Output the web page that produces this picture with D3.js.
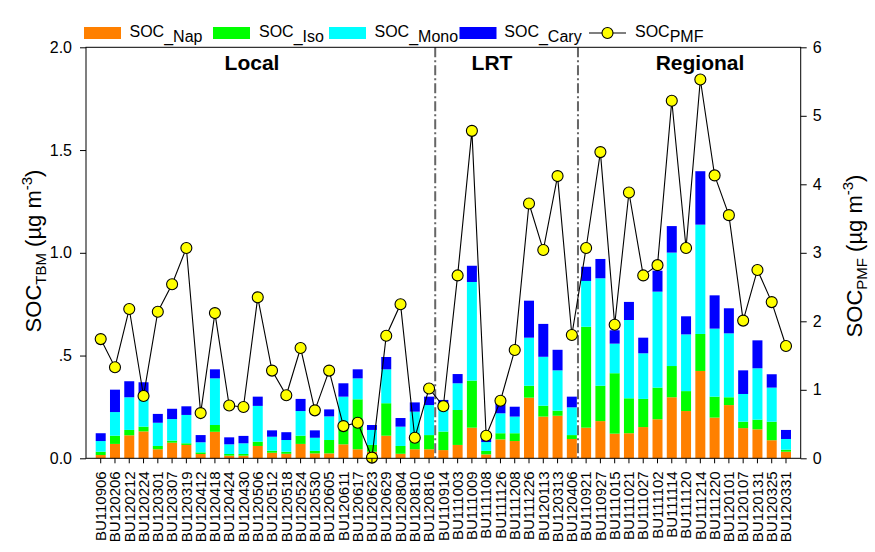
<!DOCTYPE html>
<html><head><meta charset="utf-8">
<script src="https://cdn.jsdelivr.net/npm/d3@7/dist/d3.min.js"></script>
<style>
body{margin:0;background:#fff;}
text{font-family:Arial,"Liberation Sans",sans-serif;fill:#000;}
</style>
</head><body>
<svg id="chart" width="875" height="552"></svg>
<script>
const categories = ["BU110906","BU120206","BU120212","BU120224","BU120301","BU120307","BU120319","BU120412","BU120418","BU120424","BU120430","BU120506","BU120512","BU120518","BU120524","BU120530","BU120605","BU120611","BU120617","BU120623","BU120629","BU120804","BU120810","BU120816",
"BU110914","BU111003","BU111009","BU111108","BU111126","BU111208","BU111226","BU120113","BU120313","BU120406",
"BU110921","BU110927","BU111015","BU111021","BU111027","BU111102","BU111114","BU111120","BU111214","BU111220","BU120101","BU120107","BU120131","BU120325","BU120331"];
const groupNames = ["Local","LRT","Regional"];
const groupSizes = [24,10,15];
const socNap  = [0.016,0.070,0.112,0.131,0.044,0.076,0.065,0.021,0.129,0.013,0.013,0.060,0.027,0.022,0.070,0.024,0.024,0.068,0.044,0.032,0.110,0.022,0.044,0.044,
0.040,0.065,0.149,0.019,0.092,0.084,0.295,0.203,0.207,0.094,
0.149,0.181,0.120,0.122,0.152,0.190,0.297,0.230,0.425,0.198,0.259,0.147,0.141,0.088,0.032];
const socIso  = [0.016,0.040,0.026,0.023,0.016,0.010,0.008,0.008,0.033,0.008,0.008,0.021,0.010,0.010,0.040,0.012,0.065,0.083,0.243,0.033,0.158,0.038,0.045,0.069,
0.090,0.170,0.229,0.017,0.030,0.038,0.058,0.053,0.025,0.019,
0.491,0.172,0.294,0.170,0.137,0.154,0.152,0.097,0.180,0.102,0.038,0.031,0.047,0.090,0.010];
const socMono = [0.052,0.115,0.159,0.138,0.113,0.105,0.138,0.049,0.227,0.047,0.052,0.174,0.068,0.057,0.120,0.064,0.115,0.149,0.102,0.073,0.165,0.094,0.138,0.146,
0.113,0.130,0.480,0.043,0.097,0.081,0.234,0.238,0.196,0.135,
0.223,0.523,0.144,0.381,0.222,0.467,0.552,0.276,0.532,0.331,0.311,0.135,0.250,0.166,0.052];
const socCary = [0.038,0.109,0.078,0.078,0.043,0.050,0.042,0.035,0.044,0.034,0.036,0.045,0.031,0.038,0.059,0.036,0.034,0.065,0.044,0.024,0.060,0.042,0.045,0.041,
0.041,0.045,0.079,0.018,0.049,0.048,0.180,0.160,0.100,0.052,
0.069,0.094,0.065,0.088,0.076,0.102,0.129,0.088,0.260,0.162,0.122,0.115,0.136,0.065,0.044];
const socPMF  = [1.74,1.33,2.18,0.91,2.14,2.54,3.07,0.66,2.12,0.77,0.75,2.35,1.28,0.92,1.61,0.70,1.28,0.47,0.52,0.01,1.79,2.25,0.30,1.02,
0.76,2.67,4.78,0.33,0.84,1.58,3.72,3.04,4.12,1.80,
3.07,4.47,1.95,3.88,2.67,2.82,5.22,3.07,5.53,4.13,3.55,2.01,2.75,2.28,1.64];
const leftTicks = [0,0.5,1.0,1.5,2.0];
const leftTickLabels = ["0.0",".5","1.0","1.5","2.0"];
const rightTicks = [0,1,2,3,4,5,6];
const seriesKeys = ["nap","iso","mono","cary"];
const seriesColors = ["#FF8000","#00FF00","#00FFFF","#0000FF"];
const legendMain = ["SOC","SOC","SOC","SOC","SOC"];
const legendSub = ["_Nap","_Iso","_Mono","_Cary","PMF"];

const svg = d3.select("#chart");
const L = 86, R = 800.7, T = 47.3, B = 458.3;

const x = d3.scaleBand().domain(categories).range([L, R]).paddingInner(0.3).paddingOuter(0.68);
const yL = d3.scaleLinear().domain([0,2]).range([B, T]);
const yR = d3.scaleLinear().domain([0,6]).range([B, T]);

const rows = categories.map((c,i)=>({cat:c, nap:socNap[i], iso:socIso[i], mono:socMono[i], cary:socCary[i], pmf:socPMF[i]}));
const stacked = d3.stack().keys(seriesKeys)(rows);

// bars
svg.append("g").selectAll("g").data(stacked).join("g")
  .attr("fill",(d,i)=>seriesColors[i])
  .selectAll("rect").data(d=>d).join("rect")
  .attr("x", d=>x(d.data.cat))
  .attr("width", x.bandwidth())
  .attr("y", d=>yL(d[1]))
  .attr("height", d=>yL(d[0])-yL(d[1]));

// group dividers
let acc = 0;
const dividerX = [];
groupSizes.slice(0,-1).forEach(s=>{
  acc += s;
  const a = x(categories[acc-1]) + x.bandwidth()/2, b = x(categories[acc]) + x.bandwidth()/2;
  dividerX.push((a+b)/2 - 1);
});
svg.append("g").selectAll("line").data(dividerX).join("line")
  .attr("x1",d=>d).attr("x2",d=>d).attr("y1",T).attr("y2",B)
  .attr("stroke","#666").attr("stroke-width",2).attr("stroke-dasharray","10,3,2,3");

// group titles
const titleX = [252, 492, 700];
svg.append("g").selectAll("text").data(groupNames).join("text")
  .attr("x",(d,i)=>titleX[i]).attr("y",70).attr("text-anchor","middle")
  .attr("font-weight","bold").attr("font-size",21).text(d=>d);

// PMF line
const line = d3.line().x(d=>x(d.cat)+x.bandwidth()/2).y(d=>yR(d.pmf));
svg.append("path").datum(rows).attr("d",line).attr("fill","none").attr("stroke","#000").attr("stroke-width",1.1);
svg.append("g").selectAll("circle").data(rows).join("circle")
  .attr("cx",d=>x(d.cat)+x.bandwidth()/2).attr("cy",d=>yR(d.pmf)).attr("r",5.5)
  .attr("fill","#FFFF00").attr("stroke","#000").attr("stroke-width",1.1);

// frame
svg.append("rect").attr("x",L).attr("y",T).attr("width",R-L).attr("height",B-T)
  .attr("fill","none").attr("stroke","#000").attr("stroke-width",1);

// axes
const ax = svg.append("g").attr("transform",`translate(0,${B})`)
  .call(d3.axisBottom(x).tickSize(5).tickSizeOuter(0));
ax.select(".domain").remove();
ax.selectAll("text").attr("transform","rotate(-90)").attr("x",-13).attr("y",0)
  .attr("dy","0.35em").attr("text-anchor","end").attr("font-size",15).attr("font-family","Arial, 'Liberation Sans', sans-serif");

const ayl = svg.append("g").attr("transform",`translate(${L},0)`)
  .call(d3.axisLeft(yL).tickValues(leftTicks).tickFormat((d,i)=>leftTickLabels[i]).tickSize(6).tickPadding(8).tickSizeOuter(0));
ayl.select(".domain").remove();
ayl.selectAll("text").attr("font-size",16).attr("font-family","Arial, 'Liberation Sans', sans-serif");

const ayr = svg.append("g").attr("transform",`translate(${R},0)`)
  .call(d3.axisRight(yR).tickValues(rightTicks).tickFormat(d3.format("d")).tickSize(6).tickPadding(6).tickSizeOuter(0));
ayr.select(".domain").remove();
ayr.selectAll("text").attr("font-size",16).attr("font-family","Arial, 'Liberation Sans', sans-serif");

// axis titles
function axisTitle(cx, cy, sub){
  const t = svg.append("text").attr("transform",`translate(${cx},${cy}) rotate(-90)`)
    .attr("text-anchor","middle").attr("font-size",22);
  t.append("tspan").text("SOC");
  t.append("tspan").attr("font-size",15).attr("dy",5).text(sub);
  t.append("tspan").attr("dy",-5).text(" (µg m");
  t.append("tspan").attr("font-size",15).attr("dy",-9).text("-3");
  t.append("tspan").attr("dy",9).text(")");
}
axisTitle(41, 251, "TBM");
axisTitle(862, 256, "PMF");

// legend
const swatchX = [84, 213, 329, 459.5];
const legTextX = [129.5, 259, 374.5, 504.3, 635];
const lg = svg.append("g");
lg.selectAll("rect").data(seriesColors).join("rect")
  .attr("x",(d,i)=>swatchX[i]).attr("y",27).attr("width",37).attr("height",12).attr("fill",d=>d);
lg.append("line").attr("x1",589).attr("x2",626).attr("y1",33).attr("y2",33).attr("stroke","#000").attr("stroke-width",1.1);
lg.append("circle").attr("cx",607.5).attr("cy",33).attr("r",5.5).attr("fill","#FFFF00").attr("stroke","#000").attr("stroke-width",1.1);
legendMain.forEach((m,i)=>{
  const t = lg.append("text").attr("x",legTextX[i]).attr("y",37).attr("font-size",16);
  t.append("tspan").text(m);
  t.append("tspan").attr("dy",5).text(legendSub[i]);
});
</script>
</body></html>
